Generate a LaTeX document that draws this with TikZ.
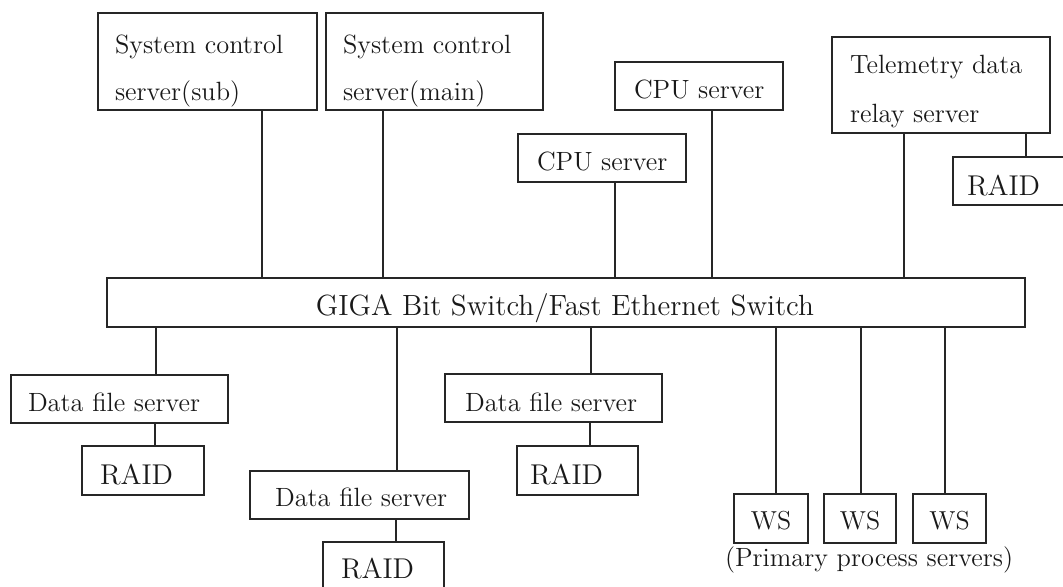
\documentclass[tikz,border=0pt]{standalone}
\tikzset{
  box/.style={draw=black!85, line width=0.7pt, inner sep=0pt, outer sep=0pt},
  lbl/.style={anchor=base west, inner sep=0pt, outer sep=0pt, text=black!90, font=\fontsize{13.2}{15}\selectfont},
  big/.style={font=\fontsize{14.3}{16}\selectfont},
  wsf/.style={anchor=base, font=\fontsize{13}{15}\selectfont},
  link/.style={draw=black!85, line width=0.7pt},
}
\begin{document}
\begin{tikzpicture}[x=0.5pt,y=-0.5pt]
\useasboundingbox (0,0) rectangle (1063,586);
\clip (0,0) rectangle (1063,586);
% boxes
\node[box, minimum width=109.5pt, minimum height=48.5pt] (sub)  at (207.5,61.5) {};
\node[box, minimum width=108.5pt, minimum height=48.5pt] (main) at (434.5,61.5) {};
\node[box, minimum width=84pt, minimum height=24pt] (cpuA) at (699,86) {};
\node[box, minimum width=84pt, minimum height=24pt] (cpuB) at (602,158) {};
\node[box, minimum width=109pt, minimum height=48pt] (tele) at (941,85) {};
\node[box, minimum width=68.5pt, minimum height=24pt] (raidT) at (1021.5,181) {};
\node[box, minimum width=459pt, minimum height=24.5pt] (sw) at (566,302.5) {};
\node[box, minimum width=108.5pt, minimum height=24pt] (dfsA) at (119.5,399) {};
\node[box, minimum width=61pt, minimum height=24.5pt] (raidA) at (143,470.5) {};
\node[box, minimum width=109.5pt, minimum height=24pt] (dfsB) at (359.5,495) {};
\node[box, minimum width=60.5pt, minimum height=26pt] (raidB) at (383.5,568) {};
\node[box, minimum width=108.5pt, minimum height=24pt] (dfsC) at (553.5,398) {};
\node[box, minimum width=60.5pt, minimum height=24.5pt] (raidC) at (577.5,470.5) {};
\node[box, minimum width=37pt, minimum height=24.5pt] (wsA) at (771,518.5) {};
\node[box, minimum width=36pt, minimum height=24.5pt] (wsB) at (860,518.5) {};
\node[box, minimum width=36.5pt, minimum height=24.5pt] (wsC) at (949.5,518.5) {};
% texts
\node[lbl] (tsub1) at (115,53) {System control};
\node[lbl] (tsub2) at (115,100) {server(sub)};
\node[lbl] (tmain1) at (343,53) {System control};
\node[lbl] (tmain2) at (343,100) {server(main)};
\node[lbl] (tcpuA) at (634,98) {CPU server};
\node[lbl] (tcpuB) at (537,170) {CPU server};
\node[lbl] (ttele1) at (850,73) {Telemetry data};
\node[lbl] (ttele2) at (850,122) {relay server};
\node[lbl,big] (traidT) at (967,195) {RAID};
\node[lbl, anchor=base, font=\fontsize{14.6}{17}\selectfont] (tsw) at (565,315) {GIGA Bit Switch/Fast Ethernet Switch};
\node[lbl] (tdfsA) at (28,411) {Data file server};
\node[lbl,big] (traidA) at (100,484) {RAID};
\node[lbl] (tdfsB) at (275,506) {Data file server};
\node[lbl,big] (traidB) at (341,578) {RAID};
\node[lbl] (tdfsC) at (465,411) {Data file server};
\node[lbl,big] (traidC) at (530,484) {RAID};
\node[lbl, wsf] (twsA) at (771,529) {WS};
\node[lbl, wsf] (twsB) at (860,529) {WS};
\node[lbl, wsf] (twsC) at (949.5,529) {WS};
\node[lbl] (tprim) at (725,566) {(Primary process servers)};
% connectors
\draw[link] (sub.south -| 262,0) -- (sw.north -| 262,0);
\draw[link] (main.south -| 383,0) -- (sw.north -| 383,0);
\draw[link] (cpuB.south -| 615,0) -- (sw.north -| 615,0);
\draw[link] (cpuA.south -| 712,0) -- (sw.north -| 712,0);
\draw[link] (tele.south -| 904,0) -- (sw.north -| 904,0);
\draw[link] (tele.south -| 1026,0) -- (raidT.north -| 1026,0);
\draw[link] (sw.south -| 156,0) -- (dfsA.north -| 156,0);
\draw[link] (dfsA.south -| 155,0) -- (raidA.north -| 155,0);
\draw[link] (sw.south -| 397,0) -- (dfsB.north -| 397,0);
\draw[link] (dfsB.south -| 396,0) -- (raidB.north -| 396,0);
\draw[link] (sw.south -| 591,0) -- (dfsC.north -| 591,0);
\draw[link] (dfsC.south -| 590,0) -- (raidC.north -| 590,0);
\draw[link] (sw.south -| 776,0) -- (wsA.north -| 776,0);
\draw[link] (sw.south -| 861,0) -- (wsB.north -| 861,0);
\draw[link] (sw.south -| 945,0) -- (wsC.north -| 945,0);
\end{tikzpicture}
\end{document}
